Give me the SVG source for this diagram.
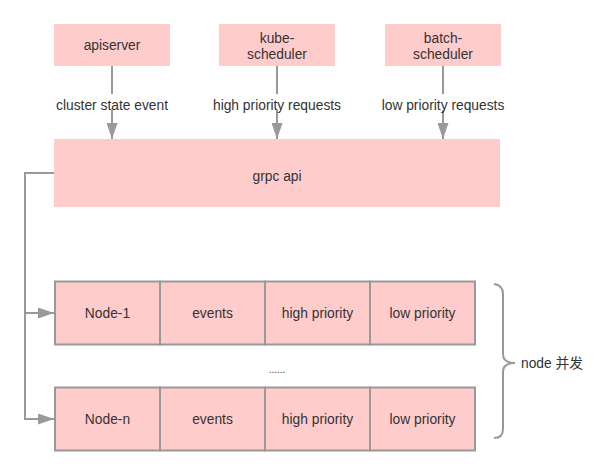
<svg xmlns="http://www.w3.org/2000/svg" width="611" height="476" viewBox="0 0 611 476">
<style>
.box{fill:#FFCCCC}
.cell{fill:#FFCCCC;stroke:#999999;stroke-width:2}
.t{font-family:"Liberation Sans",Arial,sans-serif;font-size:13.8px;fill:#333333;text-anchor:middle}
.ln{stroke:#999999;stroke-width:2;fill:none}
</style>
<defs>
<marker id="ah" markerWidth="16" markerHeight="11" refX="16" refY="5.5" orient="auto" markerUnits="userSpaceOnUse">
<path d="M0,0 L16,5.5 L0,11 Z" fill="#999999"/>
</marker>
</defs>
<rect width="611" height="476" fill="#ffffff"/>
<g id="connectors">
<line class="ln" x1="112" y1="66" x2="112" y2="94"/>
<line class="ln" x1="112" y1="110" x2="112" y2="139" marker-end="url(#ah)"/>
<line class="ln" x1="277" y1="66" x2="277" y2="94"/>
<line class="ln" x1="277" y1="110" x2="277" y2="139" marker-end="url(#ah)"/>
<line class="ln" x1="443" y1="66" x2="443" y2="94"/>
<line class="ln" x1="443" y1="110" x2="443" y2="139" marker-end="url(#ah)"/>
<path class="ln" d="M54,173 H25 V419 H54" marker-end="url(#ah)"/>
<path class="ln" d="M25,313 H54" marker-end="url(#ah)"/>
<text class="t" x="112" y="109.5">cluster state event</text>
<text class="t" x="277" y="109.5">high priority requests</text>
<text class="t" x="443" y="109.5">low priority requests</text>
</g>
<g id="apiserver">
<rect class="box" x="54" y="24" width="116" height="42"/>
<text class="t" x="112" y="50">apiserver</text>
</g>
<g id="kube-scheduler">
<rect class="box" x="219" y="24" width="116" height="42"/>
<text class="t" x="277" y="43">kube-</text>
<text class="t" x="277" y="59">scheduler</text>
</g>
<g id="batch-scheduler">
<rect class="box" x="385" y="24" width="116" height="42"/>
<text class="t" x="443" y="43">batch-</text>
<text class="t" x="443" y="59">scheduler</text>
</g>
<g id="grpc-api">
<rect class="box" x="54" y="139" width="446" height="68"/>
<text class="t" x="277" y="180.5">grpc api</text>
</g>
<g id="node-1">
<rect class="cell" x="55" y="281.5" width="105" height="63"/>
<rect class="cell" x="160" y="281.5" width="105" height="63"/>
<rect class="cell" x="265" y="281.5" width="105" height="63"/>
<rect class="cell" x="370" y="281.5" width="105" height="63"/>
<text class="t" x="107.5" y="317.5">Node-1</text>
<text class="t" x="212.5" y="317.5">events</text>
<text class="t" x="317.5" y="317.5">high priority</text>
<text class="t" x="422.5" y="317.5">low priority</text>
</g>
<g id="ellipsis">
<text class="t" x="277" y="373" style="font-size:10px">......</text>
</g>
<g id="node-n">
<rect class="cell" x="55" y="387.5" width="105" height="63"/>
<rect class="cell" x="160" y="387.5" width="105" height="63"/>
<rect class="cell" x="265" y="387.5" width="105" height="63"/>
<rect class="cell" x="370" y="387.5" width="105" height="63"/>
<text class="t" x="107.5" y="423.5">Node-n</text>
<text class="t" x="212.5" y="423.5">events</text>
<text class="t" x="317.5" y="423.5">high priority</text>
<text class="t" x="422.5" y="423.5">low priority</text>
</g>
<g id="brace">
<path d="M494,284 Q503,285 503,294 V354 Q503,363 515,363 Q503,363 503,372 V429 Q503,438 494,438" fill="none" stroke="#999999" stroke-width="2"/>
<text x="521" y="367.5" style="font-family:'Liberation Sans','Noto Sans CJK SC',sans-serif;font-size:13.8px;fill:#333333">node 并发</text>
</g>
</svg>
